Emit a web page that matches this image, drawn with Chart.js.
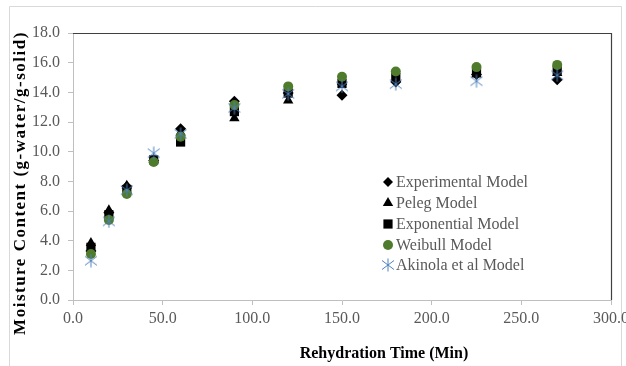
<!DOCTYPE html>
<html>
<head>
<meta charset="utf-8">
<script src="https://cdn.jsdelivr.net/npm/chart.js@4.4.1/dist/chart.umd.min.js"></script>
<style>
  html, body { margin: 0; padding: 0; background: #fff; }
  #wrap { position: relative; width: 626px; height: 366px; }
</style>
</head>
<body>
<div id="wrap"><canvas id="c" width="626" height="366"></canvas></div>
<script>
// ---- data ----
const times = [10, 20, 30, 45, 60, 90, 120, 150, 180, 225, 270];
const experimental = [3.3, 5.9, 7.65, 9.4, 11.55, 13.4, 13.95, 13.8, 14.7, 15.2, 14.85];
const peleg        = [3.85, 6.05, 7.7, 9.45, 11.3, 12.25, 13.45, 14.7, 14.9, 15.2, 15.3];
const exponential  = [3.55, 5.75, 7.45, 9.45, 10.65, 12.7, 13.95, 14.6, 15.0, 15.35, 15.5];
const weibull      = [3.1, 5.4, 7.15, 9.3, 11.0, 13.15, 14.4, 15.05, 15.4, 15.7, 15.85];
const akinola      = [2.65, 5.3, 7.4, 9.9, 11.2, 12.95, 13.9, 14.4, 14.55, 14.75, 15.15];
const seriesNames = ['Experimental Model', 'Peleg Model', 'Exponential Model', 'Weibull Model', 'Akinola et al Model'];
const xTickLabels = ['0.0', '50.0', '100.0', '150.0', '200.0', '250.0', '300.0'];
const yTickLabels = ['0.0', '2.0', '4.0', '6.0', '8.0', '10.0', '12.0', '14.0', '16.0', '18.0'];
const xTitle = 'Rehydration Time (Min)';
const yTitle = 'Moisture Content (g-water/g-solid)';

// ---- star marker (asterisk) ----
function makeStar(color) {
  const c = document.createElement('canvas');
  c.width = 14; c.height = 14;
  const g = c.getContext('2d');
  g.strokeStyle = color; g.lineWidth = 1;
  g.beginPath();
  g.moveTo(7, 0.5); g.lineTo(7, 13.5);
  g.moveTo(1, 2.5); g.lineTo(13, 11.5);
  g.moveTo(13, 2.5); g.lineTo(1, 11.5);
  g.stroke();
  return c;
}
const starImg = makeStar('#4f81bd');

const toPts = arr => arr.map((v, i) => ({ x: times[i], y: v }));
const GREEN = '#4f7b2c';
const datasets = [
  { label: seriesNames[0], data: toPts(experimental), pointStyle: 'rectRot', pointRadius: 5.5, backgroundColor: '#000', borderColor: '#000', borderWidth: 0, order: 5 },
  { label: seriesNames[1], data: toPts(peleg), pointStyle: 'triangle', pointRadius: 6, backgroundColor: '#000', borderColor: '#000', borderWidth: 0, order: 4 },
  { label: seriesNames[2], data: toPts(exponential), pointStyle: 'rect', pointRadius: 6.5, backgroundColor: '#000', borderColor: '#000', borderWidth: 0, order: 3 },
  { label: seriesNames[3], data: toPts(weibull), pointStyle: 'circle', pointRadius: 5, backgroundColor: GREEN, borderColor: GREEN, borderWidth: 0, order: 2 },
  { label: seriesNames[4], data: toPts(akinola), pointStyle: starImg, pointRadius: 7, backgroundColor: '#4f81bd', borderColor: '#4f81bd', borderWidth: 0, order: 1 }
];
datasets.forEach(d => { d.showLine = false; d.pointHoverRadius = d.pointRadius; });

const TEXT = '#595959';
const decorPlugin = {
  id: 'decor',
  beforeDraw(chart) {
    const ctx = chart.ctx;
    ctx.save();
    ctx.strokeStyle = '#d9d9d9'; ctx.lineWidth = 1;
    ctx.beginPath();
    ctx.moveTo(9.5, 366); ctx.lineTo(9.5, 6.5); ctx.lineTo(621.5, 6.5); ctx.lineTo(621.5, 366);
    ctx.stroke();
    ctx.restore();
  },
  afterDraw(chart) {
    const ctx = chart.ctx, a = chart.chartArea;
    ctx.save();
    // top and right frame of the plot area
    ctx.strokeStyle = '#404040'; ctx.lineWidth = 1.2;
    ctx.beginPath();
    ctx.moveTo(a.left, Math.round(a.top) + 0.5);
    ctx.lineTo(Math.round(a.right) + 0.5, Math.round(a.top) + 0.5);
    ctx.lineTo(Math.round(a.right) + 0.5, a.bottom);
    ctx.stroke();
    // axis titles
    ctx.fillStyle = '#000';
    ctx.textAlign = 'center'; ctx.textBaseline = 'middle';
    ctx.font = 'bold 16px "Liberation Serif"';
    ctx.fillText(xTitle, 384, 354);
    ctx.save();
    ctx.translate(21, 183);
    ctx.rotate(-Math.PI / 2);
    ctx.font = 'bold 17px "Liberation Serif"';
    ctx.letterSpacing = '1.5px';
    ctx.fillText(yTitle, 0, 0);
    ctx.restore();
    // legend inside plot
    const rowY = [182, 203, 224, 245, 265];
    ctx.font = '16px "Liberation Serif"';
    ctx.textAlign = 'left';
    const legendR = [5, 6, 6.5, 5, 7];
    datasets.forEach((d, i) => {
      ctx.fillStyle = d.backgroundColor; ctx.strokeStyle = d.borderColor;
      Chart.helpers.drawPoint(ctx, { pointStyle: d.pointStyle, radius: legendR[i], borderWidth: 0, rotation: 0 }, 388, rowY[i]);
      ctx.fillStyle = TEXT;
      ctx.fillText(d.label, 396, rowY[i] + 1);
    });
    ctx.restore();
  }
};

new Chart(document.getElementById('c'), {
  type: 'scatter',
  data: { datasets },
  options: {
    responsive: false,
    devicePixelRatio: 1,
    animation: false,
    layout: { padding: { left: 0, top: 33, right: 15, bottom: 0 } },
    plugins: { legend: { display: false }, tooltip: { enabled: false } },
    scales: {
      x: {
        type: 'linear', min: 0, max: 300,
        afterFit: s => { s.height = 66; s.paddingLeft = 0; s.paddingRight = 0; },
        ticks: { stepSize: 50, color: TEXT, padding: 4, font: { family: 'Liberation Serif', size: 16 }, maxRotation: 0,
                 callback: (v) => xTickLabels[Math.round(v / 50)] },
        grid: { display: true, drawOnChartArea: false, drawTicks: true, tickLength: 5, color: '#bfbfbf' },
        border: { display: true, color: '#bfbfbf' },
        title: { display: false }
      },
      y: {
        type: 'linear', min: 0, max: 18,
        afterFit: s => { s.width = 73; },
        ticks: { stepSize: 2, color: TEXT, padding: 8, font: { family: 'Liberation Serif', size: 16 },
                 callback: (v) => yTickLabels[Math.round(v / 2)] },
        grid: { display: true, drawOnChartArea: false, drawTicks: true, tickLength: 5, color: '#bfbfbf' },
        border: { display: true, color: '#bfbfbf' },
        title: { display: false }
      }
    }
  },
  plugins: [decorPlugin]
});
</script>
</body>
</html>
